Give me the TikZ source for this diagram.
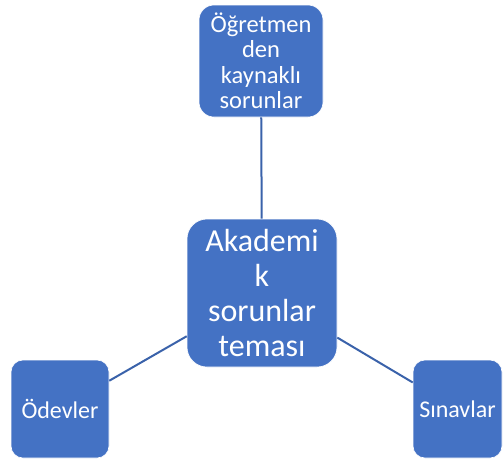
\documentclass[tikz,border=0pt]{standalone}
\usepackage{fontspec}
\setmainfont{Carlito}
\definecolor{boxblue}{HTML}{4472C4}
\definecolor{lineblue}{HTML}{3A62AA}
\begin{document}
\begin{tikzpicture}[x=1pt,y=-1pt,
  blob/.style={fill=boxblue, draw=white, line width=0.6pt, text=white, align=center, inner sep=0pt},
  link/.style={draw=lineblue, line width=2pt}]
\useasboundingbox (0,0) rectangle (504,459);
\node[blob, minimum width=124pt, minimum height=112pt, rounded corners=15pt, font=\fontsize{24.5}{25.5}\selectfont] (top) at (261,61) {Öğretmen\\den\\kaynaklı\\sorunlar};
\node[blob, minimum width=150pt, minimum height=148pt, rounded corners=20pt, font=\fontsize{32}{35}\selectfont] (mid) at (262,293) {Akademi\\k\\sorunlar\\teması};
\node[blob, minimum width=98pt, minimum height=98pt, rounded corners=12pt, font=\fontsize{24}{27}\selectfont] (left) at (60,409) {Ödevler};
\node[blob, minimum width=89pt, minimum height=98pt, rounded corners=12pt, font=\fontsize{24}{27}\selectfont] (right) at (457.5,409) {Sınavlar};
\draw[link] (top) -- (mid);
\draw[link] (mid) -- (left);
\draw[link] (mid) -- (right);
\end{tikzpicture}
\end{document}
